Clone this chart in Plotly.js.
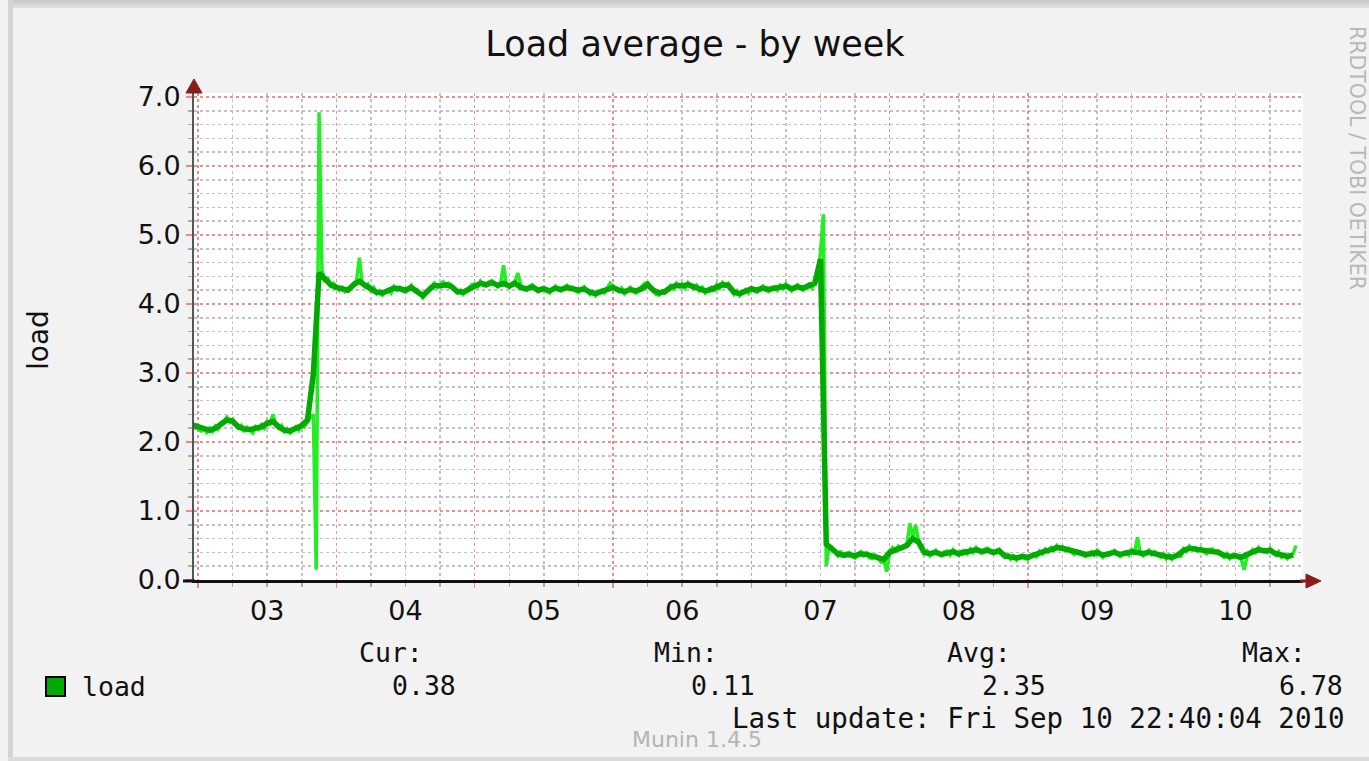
<!DOCTYPE html>
<html>
<head>
<meta charset="utf-8">
<script src="https://cdn.plot.ly/plotly-3.0.1.min.js"></script>
<style>
  html, body { margin:0; padding:0; background:#f2f2f2; }
  #wrap { position:relative; width:1369px; height:761px; overflow:hidden; background:#f2f2f2; }
  .bar { position:absolute; background:#d4d4d4; }
  #chart { position:absolute; left:0; top:0; width:1369px; height:761px; }
</style>
</head>
<body>
<div id="wrap">
  <div class="bar" style="left:8px; top:0; width:1361px; height:8px; background:linear-gradient(#c8c8c8,#e2e2e2);"></div>
  <div class="bar" style="left:8px; top:0; width:5px; height:761px;"></div>
  <div class="bar" style="left:8px; top:757px; width:1361px; height:4px; background:#dadada;"></div>
  <div id="chart"></div>
</div>
<script>
// ---------------- data ----------------
// hourly average load, starting 2010-09-02 23:00
const avgSep02 = [2.25];
const avgSep03 = [2.22,2.18,2.17,2.2,2.25,2.32,2.3,2.22,2.19,2.18,2.2,2.22,2.27,2.3,2.22,2.17,2.16,2.2,2.24,2.32,2.98,4.45,4.35,4.28];
const avgSep04 = [4.24,4.22,4.2,4.28,4.33,4.27,4.22,4.17,4.16,4.19,4.23,4.22,4.2,4.24,4.19,4.12,4.2,4.27,4.26,4.28,4.25,4.18,4.17,4.22];
const avgSep05 = [4.27,4.3,4.28,4.31,4.27,4.3,4.26,4.3,4.24,4.22,4.25,4.2,4.22,4.19,4.23,4.21,4.24,4.22,4.2,4.22,4.17,4.15,4.18,4.2];
const avgSep06 = [4.24,4.2,4.18,4.21,4.19,4.22,4.28,4.2,4.16,4.18,4.24,4.27,4.26,4.28,4.25,4.22,4.19,4.21,4.25,4.28,4.27,4.17,4.15,4.18];
const avgSep07 = [4.22,4.2,4.23,4.21,4.22,4.24,4.26,4.22,4.25,4.23,4.26,4.3,4.65,0.52,0.45,0.38,0.36,0.37,0.35,0.38,0.37,0.34,0.33,0.3];
const avgSep08 = [0.4,0.44,0.46,0.5,0.6,0.55,0.4,0.38,0.4,0.37,0.39,0.41,0.38,0.4,0.42,0.44,0.41,0.43,0.4,0.42,0.35,0.33,0.32,0.34];
const avgSep09 = [0.33,0.36,0.4,0.42,0.44,0.47,0.46,0.44,0.4,0.39,0.37,0.38,0.4,0.36,0.38,0.4,0.37,0.39,0.41,0.4,0.38,0.4,0.39,0.36];
const avgSep10 = [0.34,0.33,0.36,0.43,0.46,0.45,0.44,0.41,0.42,0.4,0.36,0.34,0.35,0.33,0.37,0.41,0.44,0.42,0.43,0.38,0.35,0.34,0.36];

// 30-minute samples (lighter green), starting 2010-09-02 23:00
const rawSep02 = [2.27,2.2];
const rawSep03 = [2.2,2.16,2.19,2.14,2.2,2.15,2.23,2.19,2.28,2.3,2.36,2.29,2.33,2.25,2.2,2.24,2.15,2.21,2.17,2.13,2.22,2.18,2.25,2.2,2.3,2.27,2.4,2.25,2.2,2.24,2.15,2.19,2.13,2.18,2.22,2.17,2.26,2.22,2.3,2.36,2.4,0.15,6.78,4.5,4.32,4.38,4.26,4.3];
const rawSep04 = [4.26,4.2,4.24,4.18,4.22,4.26,4.3,4.34,4.67,4.3,4.25,4.29,4.2,4.24,4.15,4.19,4.13,4.18,4.21,4.16,4.25,4.2,4.24,4.19,4.17,4.23,4.27,4.2,4.21,4.16,4.09,4.14,4.22,4.26,4.3,4.24,4.28,4.32,4.26,4.3,4.27,4.21,4.16,4.2,4.14,4.19,4.24,4.28];
const rawSep05 = [4.29,4.25,4.33,4.27,4.26,4.32,4.34,4.29,4.25,4.3,4.56,4.28,4.24,4.3,4.33,4.45,4.27,4.21,4.2,4.25,4.28,4.22,4.18,4.23,4.24,4.19,4.16,4.22,4.26,4.2,4.19,4.24,4.27,4.21,4.24,4.19,4.17,4.22,4.25,4.19,4.14,4.18,4.12,4.17,4.2,4.16,4.23,4.3];
const rawSep06 = [4.26,4.21,4.18,4.23,4.15,4.2,4.24,4.18,4.16,4.21,4.25,4.3,4.31,4.24,4.18,4.14,4.13,4.19,4.16,4.22,4.27,4.22,4.3,4.25,4.29,4.23,4.31,4.26,4.22,4.27,4.19,4.24,4.16,4.21,4.24,4.18,4.28,4.23,4.31,4.26,4.3,4.22,4.14,4.19,4.12,4.17,4.21,4.16];
const rawSep07 = [4.25,4.19,4.17,4.23,4.26,4.2,4.18,4.24,4.25,4.2,4.27,4.22,4.29,4.24,4.19,4.25,4.28,4.22,4.2,4.26,4.29,4.23,4.33,4.4,4.75,5.3,0.2,0.5,0.47,0.4,0.35,0.42,0.33,0.39,0.4,0.34,0.32,0.38,0.41,0.35,0.39,0.32,0.31,0.36,0.3,0.26,0.28,0.12];
const rawSep08 = [0.42,0.47,0.43,0.49,0.45,0.5,0.52,0.82,0.62,0.8,0.58,0.45,0.38,0.42,0.35,0.4,0.43,0.37,0.35,0.41,0.42,0.36,0.44,0.39,0.36,0.42,0.43,0.38,0.45,0.4,0.47,0.42,0.39,0.45,0.46,0.41,0.38,0.43,0.45,0.39,0.33,0.37,0.3,0.35,0.29,0.34,0.36,0.31];
const rawSep09 = [0.3,0.35,0.38,0.34,0.42,0.38,0.45,0.41,0.47,0.43,0.5,0.45,0.48,0.43,0.46,0.41,0.37,0.42,0.41,0.36,0.34,0.39,0.41,0.36,0.43,0.38,0.33,0.38,0.36,0.4,0.43,0.38,0.34,0.39,0.41,0.36,0.44,0.39,0.62,0.38,0.35,0.4,0.43,0.37,0.41,0.36,0.33,0.38];
const rawSep10 = [0.31,0.36,0.3,0.35,0.38,0.33,0.45,0.41,0.49,0.44,0.47,0.42,0.46,0.41,0.38,0.44,0.45,0.4,0.42,0.37,0.33,0.38,0.31,0.36,0.37,0.32,0.3,0.15,0.34,0.39,0.44,0.4,0.47,0.42,0.44,0.4,0.46,0.41,0.36,0.41,0.33,0.37,0.31,0.36,0.38,0.5];

const seriesName = "load";
const statLabels = ["Cur:", "Min:", "Avg:", "Max:"];
const statValues = ["0.38", "0.11", "2.35", "6.78"];
const lastUpdate = "Last update: Fri Sep 10 22:40:04 2010";
const chartTitle = "Load average - by week";
const yAxisLabel = "load";
const sideText = "RRDTOOL / TOBI OETIKER";
const footerText = "Munin 1.4.5";

// ---------------- build ----------------
const avgVals = [].concat(avgSep02, avgSep03, avgSep04, avgSep05, avgSep06, avgSep07, avgSep08, avgSep09, avgSep10);
const rawVals = [].concat(rawSep02, rawSep03, rawSep04, rawSep05, rawSep06, rawSep07, rawSep08, rawSep09, rawSep10);
const startMs = Date.UTC(2010, 8, 2, 23, 0, 0);
function fmt(ms) {
  const d = new Date(ms);
  const p = n => String(n).padStart(2, "0");
  return d.getUTCFullYear() + "-" + p(d.getUTCMonth() + 1) + "-" + p(d.getUTCDate()) + " " + p(d.getUTCHours()) + ":" + p(d.getUTCMinutes());
}
const avgX = avgVals.map((_, i) => fmt(startMs + i * 3600000));
const rawX = rawVals.map((_, i) => fmt(startMs + i * 1800000));

const L = 194, R = 1303, T = 93, B = 580, W = 1369, H = 761;
const pw = R - L, ph = B - T;
const px = x => (x - L) / pw;
const py = y => (B - y) / ph;

const mono = "DejaVu Sans Mono, monospace";
const sans = "DejaVu Sans, sans-serif";
const arrowCol = "#8a1c1c";
const redGrid = "rgba(228,95,95,0.7)";
const grayGrid = "#c2c2c2";

const traces = [
  { x: rawX, y: rawVals, type: "scatter", mode: "lines", line: { color: "#22ee22", width: 3.5 }, hoverinfo: "skip", showlegend: false },
  { x: avgX, y: avgVals, type: "scatter", mode: "lines", name: seriesName, line: { color: "#00aa00", width: 5.5 }, showlegend: false }
];

const ann = [];
const statRightLabel = [425, 720, 1013, 1308];
const statRightValue = [458, 757, 1048, 1345];
statLabels.forEach((s, i) => {
  ann.push({ text: s, xref: "paper", yref: "paper", x: px(statRightLabel[i]), y: py(652), xanchor: "right", yanchor: "middle", showarrow: false, font: { family: mono, size: 26.5, color: "#111" } });
  ann.push({ text: statValues[i], xref: "paper", yref: "paper", x: px(statRightValue[i]), y: py(685), xanchor: "right", yanchor: "middle", showarrow: false, font: { family: mono, size: 26.5, color: "#111" } });
});
ann.push({ text: seriesName, xref: "paper", yref: "paper", x: px(80), y: py(686), xanchor: "left", yanchor: "middle", showarrow: false, font: { family: mono, size: 26.5, color: "#111" } });
ann.push({ text: lastUpdate, xref: "paper", yref: "paper", x: px(1347), y: py(718), xanchor: "right", yanchor: "middle", showarrow: false, font: { family: mono, size: 27.5, color: "#111" } });
ann.push({ text: footerText, xref: "paper", yref: "paper", x: px(697), y: py(739), xanchor: "center", yanchor: "middle", showarrow: false, font: { family: sans, size: 22, color: "#b4b4b4" } });
ann.push({ text: yAxisLabel, xref: "paper", yref: "paper", x: px(38), y: py(340), xanchor: "center", yanchor: "middle", textangle: -90, showarrow: false, font: { family: sans, size: 28, color: "#111" } });
ann.push({ text: sideText, xref: "paper", yref: "paper", x: px(1357), y: py(158), xanchor: "center", yanchor: "middle", textangle: 90, showarrow: false, font: { family: sans, size: 20.5, color: "#b8b8b8" } });

const shapes = [
  { type: "line", xref: "paper", yref: "paper", x0: px(183), x1: px(195), y0: py(581), y1: py(581), line: { color: "#111", width: 3 } },
  { type: "path", xref: "paper", yref: "paper", path: `M ${px(186)} ${py(93)} L ${px(202)} ${py(93)} L ${px(194)} ${py(79)} Z`, fillcolor: arrowCol, line: { color: arrowCol, width: 1 } },
  { type: "line", xref: "paper", yref: "paper", x0: px(1300), x1: px(1307), y0: py(581), y1: py(581), line: { color: arrowCol, width: 3 } },
  { type: "path", xref: "paper", yref: "paper", path: `M ${px(1306)} ${py(574)} L ${px(1306)} ${py(588)} L ${px(1321)} ${py(581)} Z`, fillcolor: arrowCol, line: { color: arrowCol, width: 1 } },
  { type: "rect", xref: "paper", yref: "paper", x0: px(46), x1: px(65), y0: py(696), y1: py(677), fillcolor: "#00aa00", line: { color: "#000", width: 2 } }
];

const layout = {
  width: W, height: H, autosize: false,
  margin: { l: L, r: W - R, t: T, b: H - B, pad: 0 },
  paper_bgcolor: "rgba(0,0,0,0)",
  plot_bgcolor: "#ffffff",
  showlegend: false,
  title: { text: chartTitle, font: { family: sans, size: 35, color: "#111" }, xref: "container", yref: "container", x: 695 / W, xanchor: "center", y: 1 - 44 / H, yanchor: "middle" },
  xaxis: {
    type: "date",
    range: ["2010-09-02 23:18", "2010-09-10 23:43"],
    tick0: "2010-09-03 00:00", dtick: 86400000,
    ticklabelmode: "period", tickformat: "%d",
    ticks: "outside", ticklen: 5, tickwidth: 1.5, tickcolor: redGrid,
    tickfont: { family: sans, size: 27, color: "#111" },
    showgrid: true, gridcolor: redGrid, griddash: "dot", gridwidth: 1.5,
    showline: true, linecolor: "#111", linewidth: 3,
    zeroline: false, fixedrange: true,
    minor: { dtick: 21600000, tick0: "2010-09-03 00:00", showgrid: true, gridcolor: grayGrid, griddash: "dot", gridwidth: 1.5, ticks: "outside", ticklen: 4, tickcolor: "#aaaaaa" }
  },
  yaxis: {
    range: [0, (B - T) / 69],
    tick0: 0, dtick: 1, tickformat: ".1f",
    ticks: "outside", ticklen: 6, tickwidth: 1.5, tickcolor: redGrid,
    tickfont: { family: sans, size: 27, color: "#111" },
    showgrid: true, gridcolor: redGrid, griddash: "dot", gridwidth: 1.5,
    showline: true, linecolor: "#555", linewidth: 2,
    zeroline: false, fixedrange: true,
    minor: { dtick: 0.2, tick0: 0, showgrid: true, gridcolor: grayGrid, griddash: "dot", gridwidth: 1.5, ticks: "outside", ticklen: 4, tickcolor: "#aaaaaa" }
  },
  annotations: ann,
  shapes: shapes
};

Plotly.newPlot("chart", traces, layout, { staticPlot: true, displayModeBar: false });
</script>
</body>
</html>
